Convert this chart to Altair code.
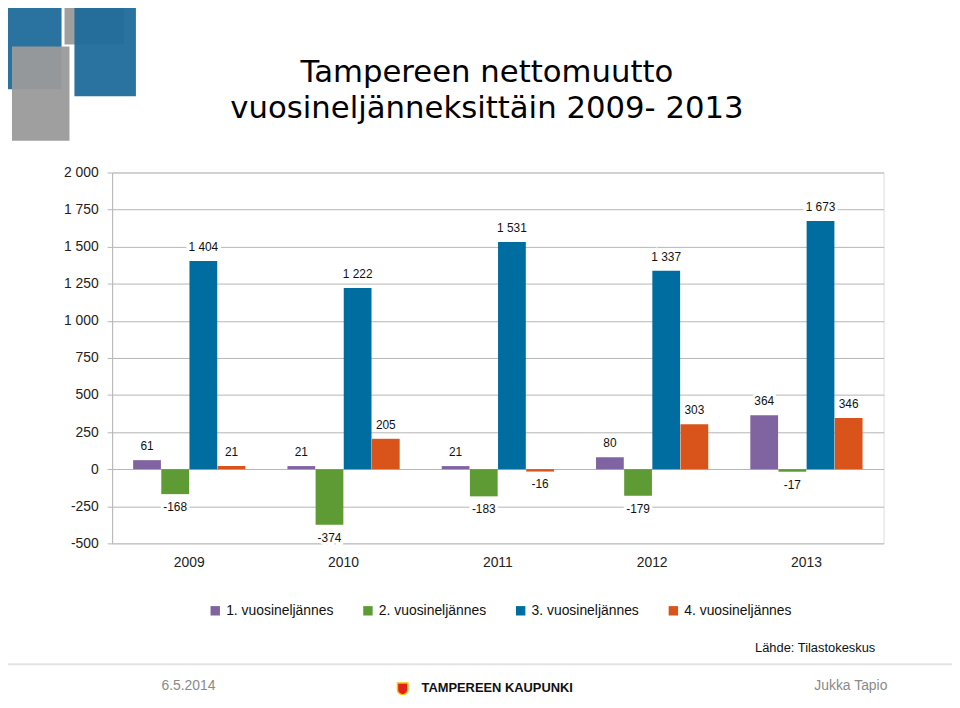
import altair as alt
import pandas as pd

years = ["2009", "2010", "2011", "2012", "2013"]
quarters = ["1. vuosineljännes", "2. vuosineljännes", "3. vuosineljännes", "4. vuosineljännes"]
q1 = [61, 21, 21, 80, 364]
q2 = [-168, -374, -183, -179, -17]
q3 = [1404, 1222, 1531, 1337, 1673]
q4 = [21, 205, -16, 303, 346]
colors = ["#8064A2", "#5E9B35", "#006DA0", "#D9541B"]
y_ticks = [-500, -250, 0, 250, 500, 750, 1000, 1250, 1500, 1750, 2000]

rows = []
for q, vals in zip(quarters, [q1, q2, q3, q4]):
    for y, v in zip(years, vals):
        rows.append({"year": y, "quarter": q, "value": v})
df = pd.DataFrame(rows)

FONT = "Liberation Sans"
FMT = "replace(replace(format({v}, ','), ',', ' '), '\u2212', '-')"

base = alt.Chart(df).transform_calculate(label=FMT.format(v="datum.value"))

x_axis = alt.Axis(title=None, domain=False, ticks=False, labelAngle=0,
                  labelFontSize=14, labelColor="#222", labelPadding=12,
                  labelFont=FONT)
y_axis = alt.Axis(title=None, values=y_ticks, grid=True, gridColor="#b5b5b5",
                  domain=True, domainColor="#b5b5b5", ticks=True, tickSize=5,
                  tickColor="#b5b5b5", labelFontSize=14, labelColor="#222",
                  labelPadding=9, labelFont=FONT, labelOverlap=False,
                  labelExpr=FMT.format(v="datum.value"))
x_scale = alt.Scale(paddingInner=0.27, paddingOuter=0.135)
y_scale = alt.Scale(domain=[-500, 2000], nice=False, zero=False)

def X():
    return alt.X("year:N", sort=years, scale=x_scale, axis=x_axis)

def Y():
    return alt.Y("value:Q", scale=y_scale, axis=y_axis)

def XO():
    return alt.XOffset("quarter:N", sort=quarters, scale=alt.Scale(paddingInner=0, paddingOuter=0))

bars = base.mark_bar(size=28).encode(
    x=X(),
    y=Y(),
    y2=alt.datum(0),
    xOffset=XO(),
    color=alt.Color("quarter:N", sort=quarters,
                    scale=alt.Scale(domain=quarters, range=colors),
                    legend=alt.Legend(title=None, orient="none", legendX=97, legendY=435,
                                      direction="horizontal", columns=4, symbolType="square",
                                      symbolSize=90, symbolStrokeWidth=0, labelFontSize=14,
                                      labelFont=FONT, labelColor="#111", columnPadding=27,
                                      symbolOffset=0, labelOffset=4)),
)

def labels(cond, baseline, dy):
    common = dict(x=X(), y=Y(), xOffset=XO(), text="label:N")
    halo = base.transform_filter(cond).mark_text(
        baseline=baseline, dy=dy, fontSize=12, font=FONT, color="white",
        stroke="white", strokeWidth=6).encode(**common)
    txt = base.transform_filter(cond).mark_text(
        baseline=baseline, dy=dy, fontSize=12, font=FONT, color="#111").encode(**common)
    return halo, txt

pos_halo, pos_txt = labels("datum.value >= 0", "bottom", -7)
neg_halo, neg_txt = labels("datum.value < 0", "top", 8)

def note(text, x, y, size=14, color="#111", weight="normal", align="center", font=FONT):
    return alt.Chart(pd.DataFrame({"t": [text]})).mark_text(
        fontSize=size, font=font, color=color, fontWeight=weight, align=align,
        baseline="middle").encode(
        x=alt.value(x), y=alt.value(y), text="t:N")

title1 = note("Tampereen nettomuutto", 378, -100, size=31, color="#000", font="DejaVu Sans")
title2 = note("vuosineljänneksittäin 2009- 2013", 378, -64, size=31, color="#000", font="DejaVu Sans")
source = note("Lähde: Tilastokeskus", 709, 480, size=13)
date = note("6.5.2014", 77, 518, size=14, color="#8a8a8a")
author = note("Jukka Tapio", 745, 518, size=14, color="#8a8a8a")
city = note("TAMPEREEN KAUPUNKI", 312, 520, size=13, color="#111", weight="bold", align="left")

footer_line = alt.Chart(pd.DataFrame({"a": [0]})).mark_rule(color="#e3e3e3", strokeWidth=2).encode(
    x=alt.value(-113), x2=alt.value(847), y=alt.value(496))

shield = alt.Chart(pd.DataFrame({"a": [0]})).mark_point(
    shape="M-1,-1L1,-1L1,0.3Q1,1 0,1.3Q-1,1 -1,0.3Z", filled=True, fill="#E2231A",
    stroke="#F5C400", strokeWidth=1.5, size=110, opacity=1).encode(
    x=alt.value(293), y=alt.value(520))

# decorative logo blocks (top-left), pixel boxes relative to plot origin
logo_boxes = [
    (-48, 12, -172, -129, "#9a9a9a"),
    (-108, -51, -170, -84, "#1F6A9A"),
    (-38, 24, -169, -77, "#1F6A9A"),
    (-101, -43, -127, -32, "#9a9a9a"),
]
logo = [
    alt.Chart(pd.DataFrame({"a": [0]})).mark_rect(color=c, opacity=0.95).encode(
        x=alt.value(x0), x2=alt.value(x1), y=alt.value(y0), y2=alt.value(y1))
    for x0, x1, y0, y1, c in logo_boxes
]

chart = alt.layer(
    bars, pos_halo, neg_halo, pos_txt, neg_txt,
    title1, title2, source, footer_line, date, author, city, shield, *logo
).properties(
    width=778, height=374,
    padding={"left": 105, "top": 163, "right": 69, "bottom": 150},
    autosize=alt.AutoSizeParams(type="none"),
).configure_view(strokeWidth=0).configure(font=FONT)

chart.save("out.html", embed_options={"renderer": "svg", "actions": False})
